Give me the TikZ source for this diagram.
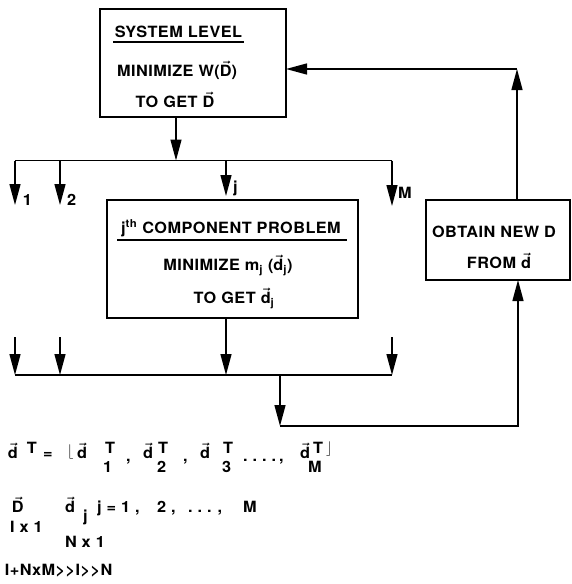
\documentclass[tikz,border=0pt]{standalone}
\usepackage{amsmath}
\usepackage{fontspec}
\setmainfont{TeX Gyre Heros}[FakeStretch=1.05,LetterSpace=3]
\usetikzlibrary{arrows.meta}
\newcommand\vd[1]{\ensuremath{\boldsymbol{\vec{\text{#1}}}}}
\newcommand\fsz{\fontsize{15.5}{18}\selectfont\bfseries}
\begin{document}
\begin{tikzpicture}[x=1pt,y=-1pt,
  every node/.style={inner sep=0pt, outer sep=0pt, font=\fsz},
  box/.style={draw, line width=1.4pt, rectangle},
  ln/.style={line width=1.4pt},
  uline/.style={line width=1.1pt},
  arr/.style={ln,-{Triangle[length=21pt,width=11pt]}},
  ctr/.style={anchor=base},
  eq/.style={anchor=base west}]
\useasboundingbox (0,0) rectangle (571,584);

% boxes
\node[box, minimum width=186pt, minimum height=108pt] (sys) at (193,63) {};
\node[box, minimum width=251pt, minimum height=118pt] (comp) at (232.5,259) {};
\node[box, minimum width=144pt, minimum height=80pt] (obt) at (498,240) {};

% system box text
\node[ctr] (s1) at (178.5,37) {SYSTEM LEVEL};
\draw[uline] (113,42) -- (244,42);
\node[ctr] (s2) at (177,76) {MINIMIZE W(\vd{D})};
\node[ctr] (s3) at (175,107) {TO GET \vd{D}};

% component box text
\node[ctr] (c1) at (231,233) {j\textsuperscript{th} COMPONENT PROBLEM};
\draw[uline] (117,240) -- (347,240);
\node[ctr] (c2) at (228,270) {MINIMIZE m$_{\text{j}}$ (\vd{d}$_{\text{j}}$)};
\node[ctr] (c3) at (234,303) {TO GET \vd{d}$_{\text{j}}$};

% obtain box text
\node[ctr] (o1) at (494,237) {OBTAIN NEW D};
\node[ctr] (o2) at (499,268) {FROM \vd{d}};

% coordinates
\coordinate (sysout) at (176,117);
\coordinate (busin) at (176,160.5);
\coordinate (busL) at (15,160.5);
\coordinate (bus2) at (60,160.5);
\coordinate (busj) at (226,160.5);
\coordinate (busR) at (392,160.5);
\coordinate (t1) at (15,205);
\coordinate (t2) at (60,205);
\coordinate (tj) at (226,196);
\coordinate (tM) at (392,206);

\coordinate (l1s) at (15,337);
\coordinate (l2s) at (60,337);
\coordinate (lMs) at (392,337);
\coordinate (compout) at (226,318);
\coordinate (obL) at (15,375);
\coordinate (ob2) at (60,375);
\coordinate (obj) at (226,375);
\coordinate (obR) at (392,375);
\coordinate (dropS) at (280,375);
\coordinate (dropE) at (280,426);
\coordinate (retR) at (518,426);
\coordinate (obtin) at (518,280);
\coordinate (obtout) at (517,200);
\coordinate (corner) at (517,69);
\coordinate (sysin) at (286,69);

% upper distribution
\draw[arr] (sysout) -- (busin);
\draw[ln] (busL) -- (busR);
\draw[arr] (busL) -- (t1);
\draw[arr] (bus2) -- (t2);
\draw[arr] (busj) -- (tj);
\draw[arr] (busR) -- (tM);
\node[eq] (n1) at (23,205) {1};
\node[eq] (n2) at (67,205) {2};
\node[eq] (nj) at (233,192) {j};
\node[eq] (nM) at (398,198) {M};

% lower collection
\draw[arr] (l1s) -- (obL);
\draw[arr] (l2s) -- (ob2);
\draw[arr] (compout) -- (obj);
\draw[arr] (lMs) -- (obR);
\draw[ln] (obL) -- (obR);
\draw[arr] (dropS) -- (dropE);
\draw[arr] (dropE) -- (retR) -- (obtin);

% feedback
\draw[arr] (obtout) -- (corner);
\draw[arr] (corner) -- (sysin);

% equations line 1
\node[eq] (e1) at (8,458) {\vd{d}};
\node[eq] (e2) at (27,453) {T};
\node[eq] (e3) at (43,458) {=};
\node[eq] (e4) at (67,455) {$\lfloor$};
\node[eq] (e5) at (77,458) {\vd{d}};
\node[eq] (e6) at (105,453) {T};
\node[eq] (e7) at (103,472) {1};
\node[eq] (e8) at (126,461) {,};
\node[eq] (e9) at (143,458) {\vd{d}};
\node[eq] (e10) at (158,453) {T};
\node[eq] (e11) at (157,472) {2};
\node[eq] (e12) at (183,461) {,};
\node[eq] (e13) at (200,458) {\vd{d}};
\node[eq] (e14) at (223,453) {T};
\node[eq] (e15) at (222,472) {3};
\node[eq] (e16) at (243,461) {.\hspace{5pt}.\hspace{5pt}.\hspace{5pt}.\hspace{3pt},};
\node[eq] (e17) at (300,458) {\vd{d}};
\node[eq] (e18) at (313,453) {T};
\node[eq] (e19) at (308,472) {M};
\node[eq] (e20) at (326,452) {$\rfloor$};

% line 2
\node[eq] (f1) at (12,512) {\vd{D}};
\node[eq] (f2) at (10,532) {I x 1};
\node[eq] (f3) at (65,512) {\vd{d}};
\node[eq] (f4) at (83,521) {j};
\node[eq] (f5) at (97,512) {j = 1 ,};
\node[eq] (f6) at (157,512) {2 ,};
\node[eq] (f7) at (188,512) {.\hspace{5pt}.\hspace{5pt}.\hspace{6pt},};
\node[eq] (f8) at (243,512) {M};
\node[eq] (f9) at (65,547) {N x 1};

% line 3
\node[eq] (g1) at (5,575) {I+NxM>{}>I>{}>N};
\end{tikzpicture}
\end{document}
